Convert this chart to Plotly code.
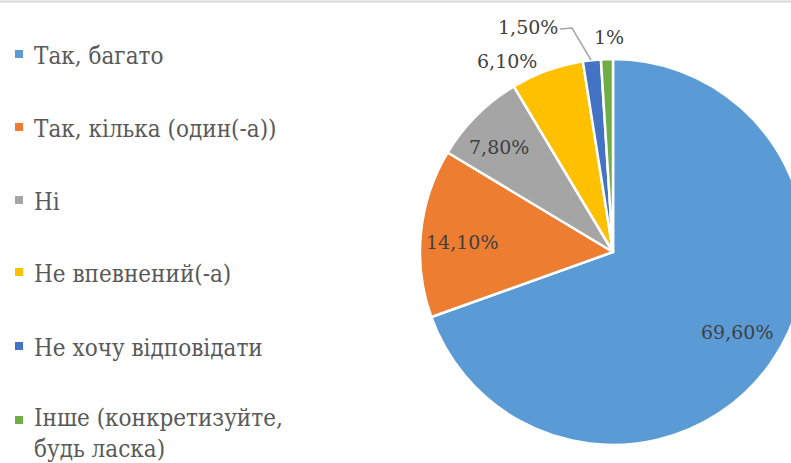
import plotly.graph_objects as go

categories = ["Так, багато", "Так, кілька (один(-а))", "Ні", "Не впевнений(-а)",
              "Не хочу відповідати", "Інше (конкретизуйте,<br>будь ласка)"]
values = [69.6, 14.1, 7.8, 6.1, 1.5, 1.0]
value_labels = ["69,60%", "14,10%", "7,80%", "6,10%", "1,50%", "1%"]
colors = ["#5B9BD5", "#ED7D31", "#A5A5A5", "#FFC000", "#4472C4", "#70AD47"]

FONT_LEG = "DejaVu Serif Condensed, DejaVu Serif, serif"
FONT_LAB = "DejaVu Serif, serif"
W, H = 810, 463
cx, cy, r = 613, 252, 193

fig = go.Figure()
fig.add_trace(go.Pie(
    labels=categories, values=values, text=value_labels,
    textinfo="none",
    sort=False, direction="clockwise", rotation=0,
    marker=dict(colors=colors, line=dict(color="white", width=2.5)),
    domain=dict(x=[(cx - r) / W, (cx + r) / W], y=[(H - cy - r) / H, (H - cy + r) / H]),
    showlegend=False, hoverinfo="label+text",
))

# data-label placement (pixel offsets from pie centre)
label_offsets = [(124, 80), (-151, -10), (-114, -105), (-106, -191), (-85, -225), (-4, -215)]

shapes = [dict(type="line", xref="paper", yref="paper", x0=0, x1=1, y0=1 - 1.5 / H, y1=1 - 1.5 / H,
               line=dict(color="#D9D9D9", width=2))]
annotations = []
for txt, (dx, dy) in zip(value_labels, label_offsets):
    annotations.append(dict(text=txt, xref="paper", yref="paper", x=(cx + dx) / W, y=1 - (cy + dy) / H,
                            xanchor="center", yanchor="middle", showarrow=False,
                            font=dict(family=FONT_LAB, size=19, color="#404040")))
# leader line for the small slice label
leader = [(-53, -223), (-41, -224), (-22, -192)]
path = "M " + " L ".join(f"{(cx + dx) / W},{1 - (cy + dy) / H}" for dx, dy in leader)
shapes.append(dict(type="path", xref="paper", yref="paper", path=path,
                   line=dict(color="#A6A6A6", width=1.5)))

leg_y = [56, 129, 202, 274, 348, 433]
for lab, col, y in zip(categories, colors, leg_y):
    yc = 1 - y / H
    ym = 1 - 420 / H if "<br>" in lab else 1 - (y - 2) / H
    shapes.append(dict(type="rect", xref="paper", yref="paper",
                       x0=15 / W, x1=23 / W, y0=ym - 4 / H, y1=ym + 4 / H,
                       fillcolor=col, line=dict(width=0)))
    annotations.append(dict(text=lab, xref="paper", yref="paper", x=32 / W, y=yc,
                            xanchor="left", yanchor="middle", showarrow=False, align="left",
                            font=dict(family=FONT_LEG, size=24, color="#595959")))

fig.update_layout(width=W, height=H, margin=dict(l=0, r=0, t=0, b=0),
                  paper_bgcolor="white", plot_bgcolor="white",
                  shapes=shapes, annotations=annotations)

post = ("document.body.style.margin='0';document.body.style.overflow='hidden';"
        "var d=document.getElementById('{plot_id}');d.style.position='fixed';"
        "d.style.left='0px';d.style.top='0px';")
fig.write_html("out.html", config={"displayModeBar": False}, post_script=post)
